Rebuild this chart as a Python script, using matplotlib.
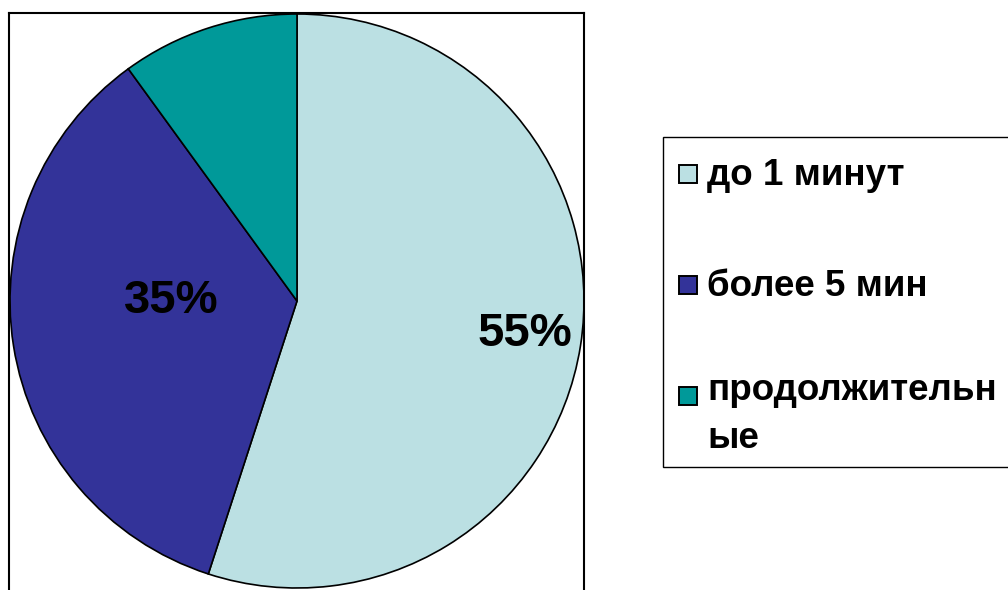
import matplotlib
matplotlib.use("Agg")
import matplotlib.pyplot as plt
from matplotlib.patches import Rectangle

categories = ["до 1 минут", "более 5 мин", "продолжительные"]
legend_labels = ["до 1 минут", "более 5 мин", "продолжительн\nые"]
values = [55, 35, 10]
shown_labels = ["55%", "35%", ""]
colors = ["#BBE0E3", "#333399", "#009999"]

plt.rcParams['font.family'] = ['Liberation Sans', 'DejaVu Sans']

W, H = 1008, 590
fig = plt.figure(figsize=(W / 100, H / 100), dpi=100)


def fx(px):
    return px / W


def fy(py):
    return 1 - py / H


# axes box in pixels
left_px, right_px, top_px, bottom_px = 9, 584, 13, 596
ax = fig.add_axes([fx(left_px), fy(bottom_px),
                   (right_px - left_px) / W, (bottom_px - top_px) / H])

wedges, _ = ax.pie(values, colors=colors, startangle=90, counterclock=False,
                   wedgeprops=dict(edgecolor="black", linewidth=1.2))

# pixel geometry: center (297, 301), radius 287
R = 287.0
cx, cy = 297, 301
ax.set_aspect("auto")
ax.set_xlim(-(cx - left_px) / R, (right_px - cx) / R)
ax.set_ylim(-(bottom_px - cy) / R, (cy - top_px) / R)
ax.set_frame_on(True)
for s in ax.spines.values():
    s.set_color("black")
    s.set_linewidth(1.5)
ax.set_xticks([])
ax.set_yticks([])

# percentage label positions (in radius units)
label_pos = [((525 - cx) / R, (cy - 334) / R), ((171 - cx) / R, (cy - 301) / R), (0, 0)]
for txt, (x, y) in zip(shown_labels, label_pos):
    if txt:
        ax.text(x, y, txt, ha="center", va="center", fontsize=34,
                fontweight="bold", color="black")

# legend (frame + entries), laid out in pixels
leg_left, leg_top, leg_right, leg_bottom = 663, 137, 1020, 467
fig.add_artist(Rectangle((fx(leg_left), fy(leg_bottom)),
                         (leg_right - leg_left) / W, (leg_bottom - leg_top) / H,
                         transform=fig.transFigure, facecolor="white",
                         edgecolor="black", linewidth=1.0, zorder=1))
first_baseline, pitch, line_pitch = 185, 110.5, 42
sw, sw_x, text_x = 18, 679, 707
for i, (lab, col) in enumerate(zip(legend_labels, colors)):
    base = first_baseline + pitch * i
    fig.add_artist(Rectangle((fx(sw_x), fy(base - 1.5)), sw / W, sw / H,
                             transform=fig.transFigure, facecolor=col,
                             edgecolor="black", linewidth=1.4, zorder=2))
    nlines = lab.count("\n") + 1
    # 'baseline' anchors the last line of a multi-line text
    fig.text(fx(text_x), fy(base + line_pitch * (nlines - 1)), lab,
             ha="left", va="baseline",
             fontsize=26.5, fontweight="bold", color="black",
             linespacing=1.48, zorder=3)

fig.savefig("out.png", dpi=100)
